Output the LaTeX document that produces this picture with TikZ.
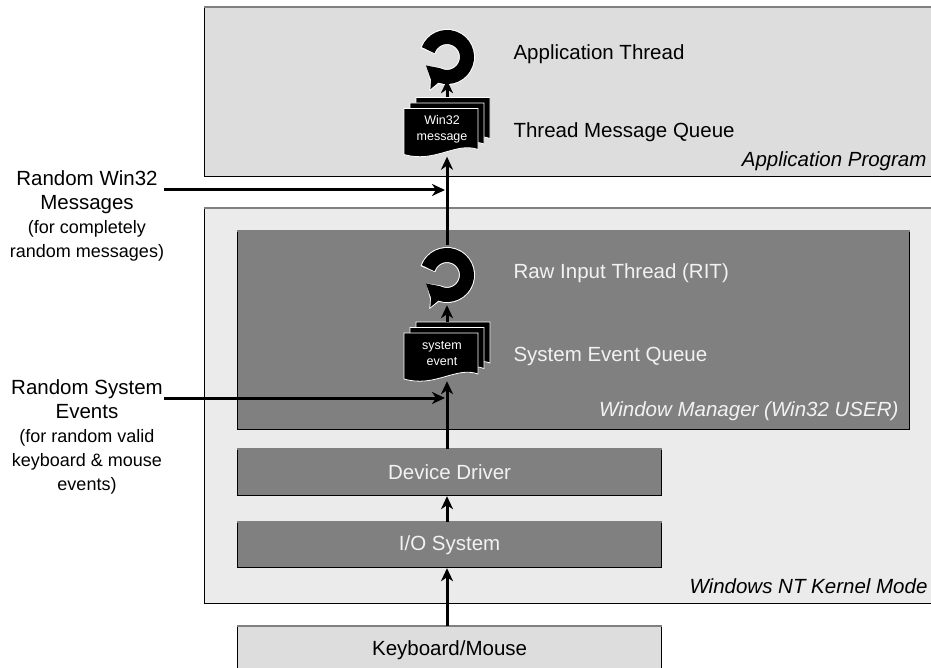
\documentclass[tikz,border=0pt]{standalone}
\usepackage{fontspec}
\setmainfont{Liberation Sans}
\usetikzlibrary{arrows.meta,positioning}

\definecolor{appgray}{RGB}{221,221,221}
\definecolor{kernelgray}{RGB}{235,235,235}
\definecolor{midgray}{RGB}{128,128,128}
\definecolor{lighttext}{RGB}{242,242,242}

\newcommand{\smallnote}[1]{{\fontsize{18}{21}\selectfont #1}}

\newcommand{\cycleicon}[1]{%
  \begin{scope}[shift={(#1)}, yscale=-1]
    \draw[white, line width=16pt, -{Triangle[length=16pt,width=29pt]}]
      (163:20) arc[start angle=163, end angle=-142, radius=20];
    \draw[black, line width=14pt, -{Triangle[length=14pt,width=26pt]}]
      (160:20) arc[start angle=160, end angle=-140, radius=20];
  \end{scope}}

\newcommand{\msgstack}[3]{%
  \begin{scope}[shift={(#1)}]
    \foreach \dx/\dy in {6/-5.5, 0/0, -6/5.5}
      \draw[white, fill=black, line width=0.8pt, shift={(\dx,\dy)}]
        (-37,-24) -- (37,-24) -- (37,17) .. controls (15,9) and (-6,31) .. (-37,22) -- cycle;
    \node[white, font=\fontsize{12.5}{16}\selectfont, align=center] at (-5,2) {#2\\#3};
  \end{scope}}

\begin{document}
\begin{tikzpicture}[
    x=1pt, y=-1pt,
    >={Stealth[length=13pt,width=12pt,inset=4pt]},
    font=\fontsize{20.5}{24}\selectfont,
    layer/.style={
        draw=black,
        line width=1.2pt,
        anchor=north west,
        inner sep=0pt
    },
    block/.style={
        layer,
        fill=midgray,
        minimum width=424pt,
        text=lighttext
    },
    ridge/.style={midgray, line width=1.6pt},
    flow/.style={->, line width=3pt},
    caption/.style={anchor=base east, font=\fontsize{20.5}{24}\selectfont\itshape},
    tag/.style={anchor=base west},
    side/.style={align=center, anchor=north, inner sep=0pt},
    spot/.style={inner sep=0pt}
  ]
  \useasboundingbox (0,0) rectangle (931,668);

  % layers, back to front
  \node[layer, fill=appgray, minimum width=740pt, minimum height=169pt] (app) at (204,7) {};
  \node[layer, fill=kernelgray, minimum width=740pt, minimum height=395pt] (kernel) at (204,208) {};
  \node[layer, fill=midgray, minimum width=672pt, minimum height=198pt] (wm) at (237,231) {};
  \node[block, minimum height=46pt] (dd) at (237,449) {Device Driver};
  \node[block, minimum height=45pt] (io) at (237,522) {I/O System};
  \node[layer, fill=appgray, minimum width=424pt, minimum height=48pt] (kbd) at (237,626) {Keyboard/Mouse};
  \foreach \b in {app,kernel,wm,dd,io,kbd}
    \draw[ridge] (\b.north west) -- (\b.north east);

  \node[caption] (appcap) at (930,167) {Application Program};
  \node[caption] (kernelcap) at (931,593) {Windows NT Kernel Mode};
  \node[caption, text=lighttext] (wmcap) at (902,416) {Window Manager (Win32 USER)};

  % threads and queues
  \node[spot, circle, minimum size=46pt] (appthr) at (447,57) {};
  \node[spot, minimum width=86pt, minimum height=59pt] (appq) at (447,127) {};
  \node[spot, circle, minimum size=60pt] (rit) at (447,275) {};
  \node[spot, minimum width=86pt, minimum height=59pt] (sysq) at (447,351.5) {};
  \cycleicon{appthr}
  \msgstack{appq}{Win32}{message}
  \cycleicon{rit}
  \msgstack{sysq}{system}{event}

  \node[tag] (apptag) at (510,60) {Application Thread};
  \node[tag] (appqtag) at (510,138) {Thread Message Queue};
  \node[tag, text=lighttext] (rittag) at (510,278) {Raw Input Thread (RIT)};
  \node[tag, text=lighttext] (sysqtag) at (510,361) {System Event Queue};

  % injection points
  \node[side] (winmsg) at (87,170) {Random Win32\\Messages\\\smallnote{(for completely}\\\smallnote{random messages)}};
  \node[side] (sysevt) at (87,379) {Random System\\Events\\\smallnote{(for random valid}\\\smallnote{keyboard \& mouse}\\\smallnote{events)}};
  \coordinate (winin) at (164,190);
  \coordinate (winhit) at (445,190);
  \coordinate (sysin) at (164,398);
  \coordinate (syshit) at (445,398);

  \draw[flow] (kbd.north -| rit) -- (io.south -| rit);
  \draw[flow] (io.north -| rit) -- (dd.south -| rit);
  \draw[flow] (dd.north -| rit) -- (sysq.south);
  \draw[flow] (sysq.north) -- (rit.south);
  \draw[flow] (rit.north) -- (appq.south);
  \draw[flow] (appq.north) -- (appthr.south);
  \draw[flow] (winin) -- (winhit);
  \draw[flow] (sysin) -- (syshit);
\end{tikzpicture}
\end{document}
